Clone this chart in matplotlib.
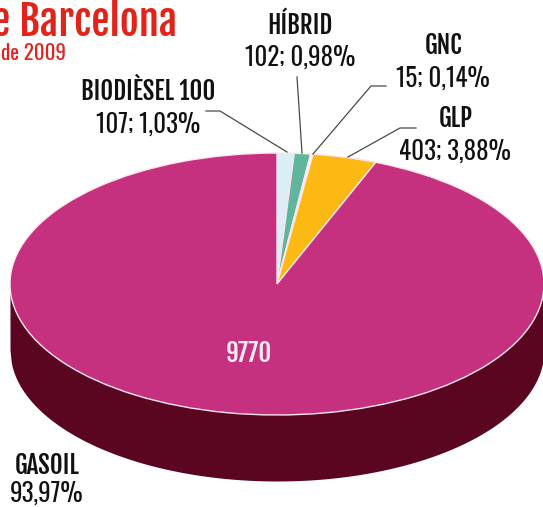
import numpy as np
import matplotlib
matplotlib.use("Agg")
import matplotlib.pyplot as plt

# Fuel types of the vehicle fleet
categories = ["BIODIÈSEL 100", "HÍBRID", "GNC", "GLP", "GASOIL"]
values = [107, 102, 15, 403, 9770]
percents = ["1,03%", "0,98%", "0,14%", "3,88%", "93,97%"]
colors = ["#DCEEF5", "#5FB59D", "#FFFFFF", "#FDB913", "#C5307F"]

title = "e Barcelona"
subtitle = "de 2009"

head_font = ['Fjalla One', 'Liberation Sans', 'DejaVu Sans']
body_font = ['Oswald', 'Liberation Sans', 'DejaVu Sans']

W, H = 543, 507
cx, cy = 277, 284      # centre of the top ellipse, in pixels
rx, ry = 267, 131
depth = 66

fig = plt.figure(figsize=(W / 100, H / 100), dpi=100, facecolor="white")

# pie axes: unit circle stretched to an ellipse
ax = fig.add_axes([0, 0, 1, 1])
ax.pie(values, colors=colors, startangle=90, counterclock=False, radius=1,
       wedgeprops=dict(edgecolor="#FBE6EE", linewidth=1.0, zorder=2))
ax.set_aspect("auto")
ax.set_xlim(-cx / rx, (W - cx) / rx)
ax.set_ylim(-(H - cy) / ry, cy / ry)

# side wall
t = np.linspace(-1, 1, 400)
lower = -np.sqrt(1 - t ** 2)
ax.fill_between(t, lower - depth / ry, 0, color="#5A0620", lw=0, zorder=1)

# overlay in pixel coordinates for the texts and leader lines
ov = fig.add_axes([0, 0, 1, 1], facecolor="none")
ov.set_xlim(0, W)
ov.set_ylim(H, 0)
ov.axis("off")

leaders = [
    ([206, 220, 287], [111, 111, 152]),
    ([297, 302], [77, 153]),
    ([386, 371, 313], [86, 86, 154]),
    ([416, 400, 348], [128, 128, 157]),
]
for xs, ys in leaders:
    ov.plot(xs, ys, color="#4A4A44", lw=0.9)

name_pos = [(148, 89), (300, 23), (443, 43), (456, 116), (47, 463)]
val_pos = [(148, 122), (300, 55), (443, 76), (455, 149), (47, 491)]
for i, name in enumerate(categories):
    ov.text(*name_pos[i], name, ha="center", va="center_baseline", fontsize=18,
            family=head_font, color="#111111")
    label = percents[i] if name == "GASOIL" else f"{values[i]}; {percents[i]}"
    ov.text(*val_pos[i], label, ha="center", va="center_baseline", fontsize=18,
            family=body_font, color="#111111")

ov.text(249, 351, str(values[4]), ha="center", va="center_baseline", fontsize=18,
        family=head_font, color="#FBEAF2")

ov.text(177, 17, title, ha="right", va="center_baseline", fontsize=29.5, family=head_font, color="#E2231A")
ov.text(66, 52, subtitle, ha="right", va="center_baseline", fontsize=15, family=body_font, color="#E2231A")

fig.savefig("out.png", dpi=100)
